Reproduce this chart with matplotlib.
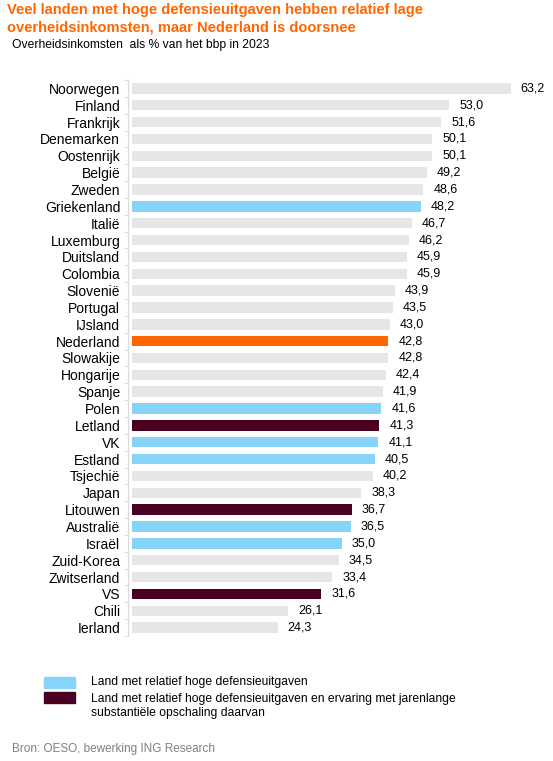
import matplotlib.pyplot as plt
import numpy as np
from matplotlib.patches import Rectangle

plt.rcParams['font.family'] = ['Liberation Sans', 'DejaVu Sans']

countries = ['Noorwegen', 'Finland', 'Frankrijk', 'Denemarken', 'Oostenrijk', 'België',
             'Zweden', 'Griekenland', 'Italië', 'Luxemburg', 'Duitsland', 'Colombia',
             'Slovenië', 'Portugal', 'IJsland', 'Nederland', 'Slowakije', 'Hongarije',
             'Spanje', 'Polen', 'Letland', 'VK', 'Estland', 'Tsjechië', 'Japan',
             'Litouwen', 'Australië', 'Israël', 'Zuid-Korea', 'Zwitserland', 'VS',
             'Chili', 'Ierland']
values = [63.2, 53.0, 51.6, 50.1, 50.1, 49.2, 48.6, 48.2, 46.7, 46.2, 45.9, 45.9,
          43.9, 43.5, 43.0, 42.8, 42.8, 42.4, 41.9, 41.6, 41.3, 41.1, 40.5, 40.2,
          38.3, 36.7, 36.5, 35.0, 34.5, 33.4, 31.6, 26.1, 24.3]
# 0 = overig, 1 = hoge defensieuitgaven, 2 = ook jarenlange opschaling, 3 = Nederland
groups = [0, 0, 0, 0, 0, 0, 0, 1, 0, 0, 0, 0, 0, 0, 0, 3, 0, 0, 0, 1, 2, 1, 1, 0,
          0, 2, 1, 1, 0, 0, 2, 0, 0]

GREY = '#e6e6e6'
BLUE = '#87d4fa'
MAROON = '#4a0020'
ORANGE = '#ff6600'
colors = {0: GREY, 1: BLUE, 2: MAROON, 3: ORANGE}

fig = plt.figure(figsize=(5.53, 7.61), dpi=100)
ax = fig.add_axes([132 / 553, 1 - 636 / 761, 408 / 553, 556 / 761])

y = np.arange(len(countries))
ax.barh(y, values, height=0.62, color=[colors[g] for g in groups])
for yi, v in zip(y, values):
    ax.text(v + 1.7, yi, f'{v:.1f}'.replace('.', ','), va='center', ha='left',
            fontsize=9, color='#000000')

ax.set_xlim(0, 408 / 5.99)
ax.set_ylim(len(countries) - 0.5, -0.5)
ax.set_yticks(y)
ax.set_yticklabels(countries, fontsize=8.8)
ax.set_yticks(np.arange(len(countries) + 1) - 0.5, minor=True)
ax.tick_params(axis='y', which='major', length=0, pad=5.5)
ax.tick_params(axis='y', which='minor', length=3, color='#d9d9d9', direction='out')
ax.set_xticks([])
for s in ['top', 'right', 'bottom']:
    ax.spines[s].set_visible(False)
ax.spines['left'].set_color('#d9d9d9')
ax.spines['left'].set_linewidth(0.8)
ax.spines['left'].set_position(('outward', 3))

fig.text(7 / 553, 1 - 10 / 761, 'Veel landen met hoge defensieuitgaven hebben relatief lage',
         color=ORANGE, fontsize=10.5, fontweight='bold', va='center', ha='left')
fig.text(7 / 553, 1 - 28 / 761, 'overheidsinkomsten, maar Nederland is doorsnee',
         color=ORANGE, fontsize=10.5, fontweight='bold', va='center', ha='left')
fig.text(12 / 553, 1 - 45 / 761, 'Overheidsinkomsten  als % van het bbp in 2023',
         fontsize=8.7, va='center', ha='left')

# legenda
fig.patches.append(Rectangle((44 / 553, 1 - 688 / 761), 31 / 553, 11 / 761,
                             transform=fig.transFigure, color=BLUE))
fig.patches.append(Rectangle((44 / 553, 1 - 703 / 761), 31 / 553, 11 / 761,
                             transform=fig.transFigure, color=MAROON))
fig.text(91 / 553, 1 - 682 / 761, 'Land met relatief hoge defensieuitgaven',
         fontsize=8.7, va='center', ha='left')
fig.text(91 / 553, 1 - 706 / 761,
         'Land met relatief hoge defensieuitgaven en ervaring met jarenlange\n'
         'substantiële opschaling daarvan',
         fontsize=8.7, va='center', ha='left', linespacing=1.2)

fig.text(12 / 553, 1 - 749 / 761, 'Bron: OESO, bewerking ING Research',
         fontsize=8.5, color='#808080', va='center', ha='left')

fig.savefig('out.png', dpi=100, facecolor='white')
